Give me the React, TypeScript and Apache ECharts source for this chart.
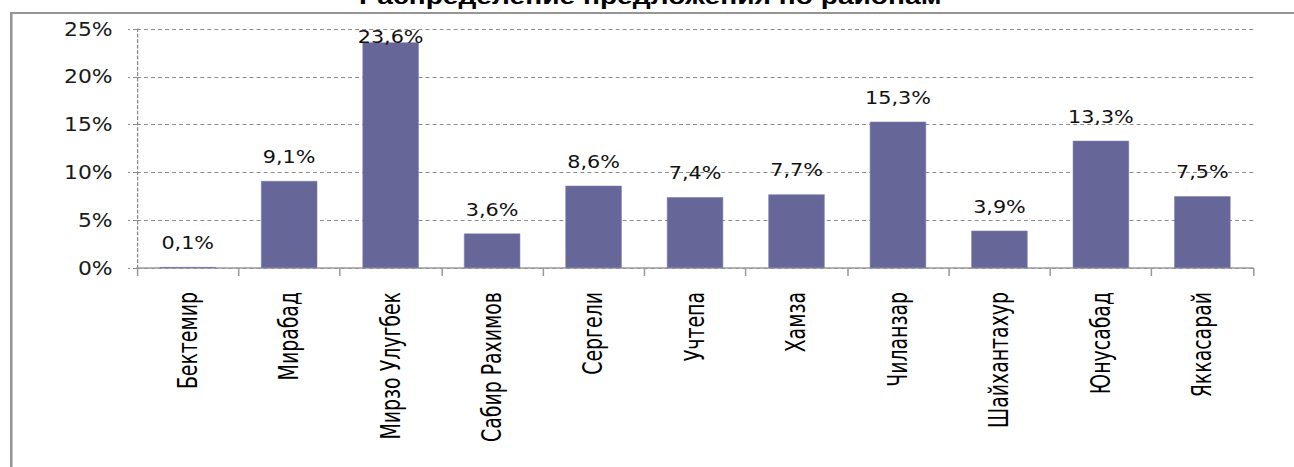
import React, { useEffect, useRef } from "react";
import * as echarts from "echarts";

const titleText = "Распределение предложения по районам";
const categories = [
  "Бектемир",
  "Мирабад",
  "Мирзо Улугбек",
  "Сабир Рахимов",
  "Сергели",
  "Учтепа",
  "Хамза",
  "Чиланзар",
  "Шайхантахур",
  "Юнусабад",
  "Яккасарай",
];
const shares = [0.1, 9.1, 23.6, 3.6, 8.6, 7.4, 7.7, 15.3, 3.9, 13.3, 7.5];
const yTicks = [0, 5, 10, 15, 20, 25];

const K = 1.28; // horizontal stretch of the reference picture
const W = Math.round(1294 / K);
const H = 467;
const FONT = "'DejaVu Sans Condensed', 'DejaVu Sans', sans-serif";

export default function App() {
  const ref = useRef<HTMLDivElement>(null);
  useEffect(() => {
    if (!ref.current) return;
    const chart = echarts.init(ref.current, undefined, { renderer: "svg" });
    const yMax = yTicks[yTicks.length - 1];
    const step = yTicks[1] - yTicks[0];
    chart.setOption({
      animation: false,
      backgroundColor: "#ffffff",
      graphic: [
        {
          type: "rect",
          shape: { x: 8.8, y: 13, width: W + 50, height: H + 50 },
          style: { fill: "none", stroke: "#969696", lineWidth: 2 },
          silent: true,
          z: 0,
        },
        {
          type: "text",
          x: 508,
          y: -4,
          style: {
            text: titleText,
            fontFamily: "'Liberation Sans', Arial, sans-serif",
            fontWeight: "bold",
            fontSize: 22,
            fill: "#000",
            textAlign: "center",
            textVerticalAlign: "middle",
          },
          z: 10,
        },
      ],
      grid: { left: 107, right: 32, top: 29, bottom: 199, containLabel: false },
      xAxis: {
        type: "category",
        data: categories,
        boundaryGap: true,
        axisLine: { show: true, lineStyle: { color: "#9a9a9a", width: 1.5 } },
        axisTick: { show: true, length: 8, lineStyle: { color: "#9a9a9a", width: 1.2 } },
        axisLabel: {
          rotate: 90,
          interval: 0,
          margin: 24,
          fontFamily: FONT,
          fontSize: 21,
          color: "#000",
        },
        splitLine: { show: false },
      },
      yAxis: {
        type: "value",
        min: 0,
        max: yMax,
        interval: step,
        axisLine: { show: true, lineStyle: { color: "#8a8a8a", type: [3, 2.5], width: 1 } },
        axisTick: { show: true, length: 7, lineStyle: { color: "#8a8a8a", type: [3, 2.5] } },
        axisLabel: {
          margin: 19,
          fontFamily: FONT,
          fontSize: 19,
          color: "#1a1a1a",
          formatter: (v: number) => `${v}%`,
        },
        splitLine: { show: true, lineStyle: { color: "#8a8a8a", type: [3, 2.5], width: 1 } },
      },
      series: [
        {
          type: "bar",
          data: shares.map((v) =>
            v > yMax * 0.9
              ? { value: v, label: { offset: [0, 19] } }
              : { value: v }
          ),
          barWidth: 44,
          itemStyle: { color: "#666699", borderColor: "#7e7eb0", borderWidth: 0.5 },
          label: {
            show: true,
            position: "top",
            distance: 15,
            fontFamily: FONT,
            fontSize: 18,
            color: "#111",
            formatter: (p: any) => `${Number(p.value).toFixed(1).replace(".", ",")}%`,
          },
        },
      ],
    });
    return () => chart.dispose();
  }, []);
  return (
    <div
      ref={ref}
      style={{
        position: "absolute",
        left: 0,
        top: 0,
        width: W,
        height: H,
        transform: `scaleX(${K})`,
        transformOrigin: "0 0",
      }}
    />
  );
}
